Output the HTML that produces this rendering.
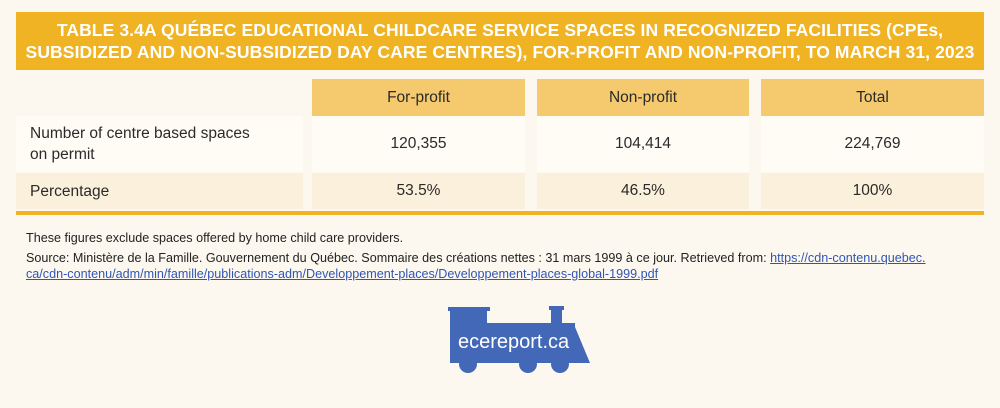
<!DOCTYPE html>
<html><head><meta charset="utf-8"><style>
body{margin:0;width:1000px;height:408px;background:#fdf8ef;font-family:"Liberation Sans",sans-serif;position:relative;overflow:hidden}
.ban{position:absolute;left:16px;top:12px;width:968px;height:58px;background:#efb323;color:#fff;font-weight:bold;font-size:17.5px;text-align:center;line-height:22px;padding-top:7px;box-sizing:border-box;letter-spacing:0.1px}
.c{position:absolute;box-sizing:border-box;display:flex;align-items:center;justify-content:center;font-size:15.5px;color:#2a2a2a}
.h{background:#f5c96e}
.r1{background:#fffcf6}
.r2{background:#fbf0db}
.l{justify-content:flex-start;padding-left:14px;line-height:21px}
.n{position:absolute;left:26px;font-size:12.6px;color:#222;line-height:16px;width:960px}
a{color:#2f55b5;text-decoration:underline}
</style></head><body>
<div class="ban">TABLE 3.4A QUÉBEC EDUCATIONAL CHILDCARE SERVICE SPACES IN RECOGNIZED FACILITIES (CPEs,<br>SUBSIDIZED AND NON-SUBSIDIZED DAY CARE CENTRES), FOR-PROFIT AND NON-PROFIT, TO MARCH 31, 2023</div>
<div class="c h" style="left:312px;top:79px;width:213px;height:37px">For-profit</div>
<div class="c h" style="left:537px;top:79px;width:212px;height:37px">Non-profit</div>
<div class="c h" style="left:761px;top:79px;width:223px;height:37px">Total</div>
<div class="c r1 l" style="left:16px;top:116px;width:287px;height:56px">Number of centre based spaces<br>on permit</div>
<div class="c r1" style="left:312px;top:116px;width:213px;height:56px">120,355</div>
<div class="c r1" style="left:537px;top:116px;width:212px;height:56px">104,414</div>
<div class="c r1" style="left:761px;top:116px;width:223px;height:56px">224,769</div>
<div class="c r2 l" style="left:16px;top:173px;width:287px;height:36px">Percentage</div>
<div class="c r2" style="left:312px;top:173px;width:213px;height:36px">53.5%</div>
<div class="c r2" style="left:537px;top:173px;width:212px;height:36px">46.5%</div>
<div class="c r2" style="left:761px;top:173px;width:223px;height:36px">100%</div>
<div style="position:absolute;left:16px;top:211px;width:968px;height:4px;background:#efb323"></div>
<div class="n" style="top:230px">These figures exclude spaces offered by home child care providers.</div>
<div class="n" style="top:250px">Source: Ministère de la Famille. Gouvernement du Québec. Sommaire des créations nettes : 31 mars 1999 à ce jour. Retrieved from: <a>https://cdn-contenu.quebec.</a><br><a>ca/cdn-contenu/adm/min/famille/publications-adm/Developpement-places/Developpement-places-global-1999.pdf</a></div>
<svg style="position:absolute;left:440px;top:300px" width="170" height="85">
<path fill="#4468b8" d="M10 9h37v14h88v4l15 36H10z"/>
<rect x="8" y="7" width="42" height="4" fill="#4468b8"/>
<rect x="111" y="8" width="11" height="18" fill="#4468b8"/>
<rect x="109" y="6" width="15" height="4" fill="#4468b8"/>
<circle cx="28" cy="64" r="9" fill="#4468b8"/><circle cx="88" cy="64" r="9" fill="#4468b8"/><circle cx="120" cy="64" r="9" fill="#4468b8"/>
<text x="18" y="48" fill="#fff" font-family="Liberation Sans,sans-serif" font-size="20">ecereport.ca</text>
</svg>
</body></html>
